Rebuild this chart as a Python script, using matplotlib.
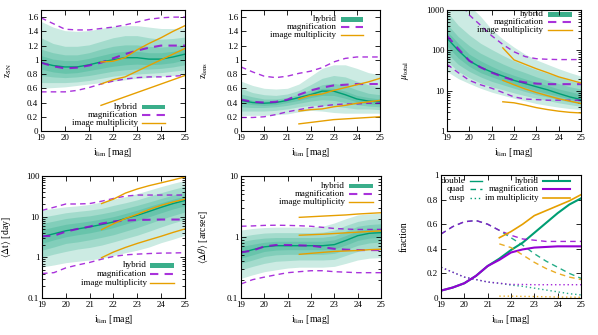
import numpy as np
import matplotlib
matplotlib.use('Agg')
import matplotlib.pyplot as plt
from matplotlib.patches import Rectangle
from matplotlib.ticker import FixedLocator, LogLocator, FuncFormatter, NullFormatter

plt.rcParams['font.family'] = ['Liberation Serif', 'DejaVu Serif']
plt.rcParams['mathtext.fontset'] = 'stix'

GREEN = '#009e73'
PURPLE = '#9400d3'
ORANGE = '#e69f00'

ilim = [19.0, 19.5, 20.0, 20.5, 21.0, 21.5, 22.0, 22.5, 23.0, 23.5, 24.0, 24.5, 25.0]
ilim_im = [21.5, 22.0, 22.5, 23.0, 23.5, 24.0, 24.5, 25.0]

# ---- z_SN ----
zsn_med = [0.96, 0.92, 0.90, 0.90, 0.93, 0.97, 1.00, 1.03, 1.03, 1.01, 1.01, 1.04, 1.08]
zsn_hi1 = [1.54, 1.46, 1.41, 1.40, 1.41, 1.44, 1.47, 1.48, 1.48, 1.46, 1.44, 1.44, 1.45]
zsn_hi2 = [1.31, 1.23, 1.19, 1.19, 1.21, 1.26, 1.31, 1.34, 1.34, 1.31, 1.29, 1.30, 1.32]
zsn_hi3 = [1.15, 1.10, 1.07, 1.07, 1.10, 1.15, 1.19, 1.21, 1.21, 1.19, 1.18, 1.19, 1.22]
zsn_hi4 = [1.06, 1.01, 0.99, 0.99, 1.02, 1.06, 1.10, 1.12, 1.12, 1.10, 1.10, 1.12, 1.15]
zsn_lo4 = [0.87, 0.83, 0.81, 0.82, 0.85, 0.88, 0.91, 0.93, 0.94, 0.93, 0.94, 0.96, 1.00]
zsn_lo3 = [0.78, 0.76, 0.75, 0.76, 0.78, 0.81, 0.84, 0.86, 0.87, 0.87, 0.88, 0.90, 0.93]
zsn_lo2 = [0.68, 0.68, 0.68, 0.69, 0.71, 0.74, 0.77, 0.79, 0.80, 0.81, 0.82, 0.84, 0.86]
zsn_lo1 = [0.60, 0.61, 0.62, 0.64, 0.66, 0.68, 0.70, 0.72, 0.74, 0.75, 0.77, 0.78, 0.80]
zsn_mag_hi = [1.59, 1.51, 1.43, 1.42, 1.42, 1.44, 1.46, 1.49, 1.53, 1.57, 1.59, 1.60, 1.60]
zsn_mag_mid = [0.96, 0.91, 0.88, 0.89, 0.92, 0.96, 1.02, 1.08, 1.13, 1.17, 1.20, 1.20, 1.20]
zsn_mag_lo = [0.55, 0.55, 0.55, 0.57, 0.61, 0.66, 0.70, 0.73, 0.75, 0.76, 0.76, 0.77, 0.78]
zsn_im_hi = [0.97, 0.98, 1.03, 1.14, 1.23, 1.31, 1.40, 1.48]
zsn_im_mid = [0.66, 0.72, 0.76, 0.84, 0.92, 1.00, 1.08, 1.16]
zsn_im_lo = [0.36, 0.42, 0.48, 0.54, 0.60, 0.66, 0.72, 0.78]

# ---- z_lens ----
zl_med = [0.43, 0.40, 0.39, 0.40, 0.43, 0.47, 0.51, 0.56, 0.56, 0.51, 0.45, 0.42, 0.41]
zl_hi1 = [0.70, 0.64, 0.60, 0.59, 0.60, 0.66, 0.77, 0.88, 0.93, 0.93, 0.88, 0.82, 0.79]
zl_hi2 = [0.60, 0.54, 0.51, 0.50, 0.52, 0.57, 0.65, 0.74, 0.78, 0.76, 0.70, 0.65, 0.62]
zl_hi3 = [0.52, 0.48, 0.45, 0.45, 0.47, 0.52, 0.58, 0.65, 0.67, 0.64, 0.58, 0.53, 0.51]
zl_hi4 = [0.47, 0.43, 0.42, 0.42, 0.45, 0.49, 0.54, 0.60, 0.60, 0.56, 0.50, 0.47, 0.45]
zl_lo4 = [0.39, 0.37, 0.36, 0.37, 0.40, 0.43, 0.47, 0.50, 0.50, 0.46, 0.41, 0.38, 0.37]
zl_lo3 = [0.34, 0.33, 0.33, 0.34, 0.36, 0.39, 0.42, 0.44, 0.43, 0.40, 0.37, 0.35, 0.34]
zl_lo2 = [0.28, 0.28, 0.28, 0.29, 0.31, 0.34, 0.36, 0.36, 0.35, 0.33, 0.31, 0.31, 0.30]
zl_lo1 = [0.22, 0.22, 0.22, 0.23, 0.24, 0.27, 0.29, 0.28, 0.26, 0.25, 0.25, 0.25, 0.25]
zl_mag_hi = [0.90, 0.83, 0.77, 0.75, 0.77, 0.81, 0.84, 0.89, 0.97, 1.02, 1.04, 1.04, 1.04]
zl_mag_mid = [0.44, 0.41, 0.40, 0.41, 0.44, 0.51, 0.57, 0.61, 0.64, 0.65, 0.66, 0.66, 0.66]
zl_mag_lo = [0.19, 0.19, 0.20, 0.23, 0.27, 0.30, 0.33, 0.35, 0.37, 0.38, 0.38, 0.39, 0.39]
zl_im_hi = [0.45, 0.50, 0.52, 0.57, 0.61, 0.65, 0.69, 0.74]
zl_im_mid = [0.28, 0.30, 0.31, 0.34, 0.36, 0.39, 0.41, 0.43]
zl_im_lo = [0.10, 0.12, 0.14, 0.16, 0.17, 0.18, 0.19, 0.20]

# ---- mu_total ----
mu_med = [200, 100, 55, 38, 29, 23, 18, 15, 12.5, 10.5, 8.5, 7, 6]
mu_hi1 = [5000, 2500, 1300, 700, 330, 190, 120, 80, 58, 45, 35, 28, 23]
mu_hi2 = [900, 420, 240, 150, 105, 75, 55, 42, 33, 27, 22, 18, 15]
mu_hi3 = [450, 220, 130, 85, 62, 46, 35, 28, 22, 18, 15, 12.5, 11]
mu_hi4 = [300, 150, 80, 55, 40, 30, 24, 19.5, 16, 13.5, 11, 9.5, 8]
mu_lo4 = [130, 65, 40, 28, 22, 17.5, 14.5, 12, 10, 8.5, 7.3, 6.2, 5.4]
mu_lo3 = [85, 45, 30, 22, 17, 14, 11.5, 9.5, 8, 7, 6, 5.3, 4.7]
mu_lo2 = [55, 30, 21, 15.5, 12.5, 10.5, 8.8, 7.5, 6.5, 5.7, 5, 4.5, 4.1]
mu_lo1 = [30, 20, 15, 11.5, 9.2, 7.7, 6.5, 5.6, 4.8, 4.3, 3.9, 3.6, 3.4]
mu_mag_hi = [4000, 1800, 750, 420, 230, 140, 92, 70, 62, 60, 59, 59, 59]
mu_mag_mid = [230, 110, 55, 38, 28, 22, 18, 16, 15, 14.5, 14.5, 14.5, 14.5]
mu_mag_lo = [45, 28, 18, 14, 11.5, 9, 7, 6.2, 6, 5.8, 5.8, 5.8, 5.8]
mu_im_hi = [115, 58, 45, 35, 28, 22, 18.5, 15.5]
mu_im_mid = [18, 14, 11, 9, 7.5, 6.3, 5.5, 4.8]
mu_im_lo = [5.3, 5.0, 4.4, 3.8, 3.4, 3.1, 2.9, 2.8]

# ---- <dt> ----
dt_med = [3.2, 3.8, 4.5, 5.0, 5.6, 6.4, 7.4, 9.0, 10.8, 13.5, 17, 21, 25]
dt_hi1 = [14.4, 16, 17.5, 18.5, 20, 23, 27, 31, 37, 45, 55, 66, 78]
dt_hi2 = [9.8, 11, 12.5, 13.5, 14.5, 16, 19, 22, 26, 32, 39, 47, 56]
dt_hi3 = [6.8, 7.8, 9, 9.8, 10.5, 11.8, 13.5, 16, 19, 23, 28, 34, 40]
dt_hi4 = [4.8, 5.6, 6.5, 7.1, 7.8, 8.8, 10, 12, 14.5, 18, 22, 27, 32]
dt_lo4 = [2.2, 2.7, 3.2, 3.6, 4.0, 4.6, 5.4, 6.6, 8, 10, 12.5, 15.5, 18.5]
dt_lo3 = [1.5, 1.8, 2.2, 2.4, 2.7, 3.1, 3.6, 4.4, 5.4, 6.8, 8.6, 10.7, 13]
dt_lo2 = [1.0, 1.2, 1.4, 1.6, 1.75, 2.0, 2.4, 2.9, 3.5, 4.4, 5.6, 7, 8.5]
dt_lo1 = [0.58, 0.65, 0.74, 0.8, 0.86, 0.95, 1.1, 1.3, 1.5, 1.8, 2.3, 2.8, 3.5]
dt_mag_hi = [14.3, 17, 20.5, 20.5, 21, 24, 28, 32, 34, 34, 34, 34, 34]
dt_mag_mid = [3.3, 3.4, 4.3, 5.0, 5.7, 6.8, 7.6, 8.0, 8.3, 8.4, 8.5, 8.5, 8.5]
dt_mag_lo = [0.40, 0.42, 0.55, 0.65, 0.75, 0.9, 1.05, 1.15, 1.2, 1.24, 1.27, 1.28, 1.3]
dt_im_hi = [21, 27, 38, 48, 58, 68, 80, 95]
dt_im_mid = [4.8, 6.7, 9, 11.5, 15, 19, 23, 27]
dt_im_lo = [0.98, 1.35, 1.75, 2.2, 2.7, 3.3, 4.1, 5.0]

# ---- <dtheta> ----
dth_med = [0.55, 0.62, 0.69, 0.72, 0.72, 0.72, 0.72, 0.72, 0.75, 0.88, 1.05, 1.15, 1.18]
dth_hi1 = [1.3, 1.38, 1.43, 1.45, 1.45, 1.45, 1.45, 1.5, 1.7, 2.0, 2.3, 2.4, 2.45]
dth_hi2 = [1.02, 1.1, 1.16, 1.18, 1.18, 1.18, 1.18, 1.2, 1.3, 1.55, 1.8, 1.95, 2.0]
dth_hi3 = [0.84, 0.91, 0.96, 0.98, 0.98, 0.98, 0.98, 0.99, 1.05, 1.25, 1.5, 1.6, 1.65]
dth_hi4 = [0.70, 0.76, 0.82, 0.85, 0.85, 0.85, 0.85, 0.85, 0.9, 1.06, 1.27, 1.37, 1.4]
dth_lo4 = [0.45, 0.51, 0.58, 0.61, 0.62, 0.62, 0.62, 0.62, 0.64, 0.74, 0.88, 0.96, 0.99]
dth_lo3 = [0.37, 0.42, 0.48, 0.51, 0.52, 0.52, 0.52, 0.52, 0.54, 0.62, 0.73, 0.8, 0.83]
dth_lo2 = [0.29, 0.33, 0.37, 0.40, 0.41, 0.42, 0.42, 0.42, 0.43, 0.5, 0.58, 0.63, 0.65]
dth_lo1 = [0.21, 0.24, 0.27, 0.29, 0.31, 0.32, 0.32, 0.32, 0.33, 0.37, 0.42, 0.45, 0.46]
dth_mag_hi = [1.5, 1.52, 1.55, 1.56, 1.55, 1.53, 1.5, 1.44, 1.38, 1.35, 1.33, 1.33, 1.33]
dth_mag_mid = [0.56, 0.60, 0.70, 0.74, 0.74, 0.73, 0.72, 0.68, 0.64, 0.62, 0.61, 0.61, 0.61]
dth_mag_lo = [0.17, 0.2, 0.22, 0.24, 0.26, 0.27, 0.28, 0.28, 0.27, 0.265, 0.26, 0.26, 0.26]
dth_im_hi = [2.1, 2.15, 2.2, 2.25, 2.3, 2.38, 2.44, 2.5]
dth_im_mid = [1.07, 1.09, 1.11, 1.14, 1.17, 1.2, 1.23, 1.26]
dth_im_lo = [0.52, 0.54, 0.56, 0.58, 0.59, 0.6, 0.62, 0.63]

# ---- fractions ----
fr_hyb_double = [0.06, 0.085, 0.12, 0.18, 0.26, 0.32, 0.39, 0.45, 0.53, 0.61, 0.69, 0.76, 0.81]
fr_hyb_quad = [0.52, 0.58, 0.62, 0.63, 0.60, 0.55, 0.49, 0.43, 0.36, 0.30, 0.25, 0.20, 0.16]
fr_hyb_cusp = [0.25, 0.21, 0.17, 0.15, 0.13, 0.12, 0.105, 0.095, 0.08, 0.065, 0.05, 0.035, 0.025]
fr_mag_double = [0.06, 0.085, 0.12, 0.18, 0.26, 0.31, 0.37, 0.395, 0.41, 0.415, 0.42, 0.42, 0.42]
fr_mag_quad = [0.52, 0.58, 0.62, 0.63, 0.60, 0.55, 0.51, 0.48, 0.47, 0.46, 0.46, 0.46, 0.46]
fr_mag_cusp = [0.25, 0.21, 0.17, 0.15, 0.13, 0.12, 0.11, 0.11, 0.108, 0.108, 0.108, 0.108, 0.108]
fr_im_double = [0.49, 0.54, 0.60, 0.67, 0.71, 0.75, 0.79, 0.84]
fr_im_quad = [0.44, 0.41, 0.35, 0.29, 0.24, 0.20, 0.17, 0.15]
fr_im_cusp = [0.015, 0.015, 0.013, 0.012, 0.01, 0.008, 0.007, 0.006]


def fmt(v, pos):
    return '%g' % v


def style(ax, log=False, ylim=None, yticks=None):
    ax.set_xlim(19, 25)
    ax.set_xticks([19, 20, 21, 22, 23, 24, 25])
    if log:
        ax.set_yscale('log')
        ax.yaxis.set_major_locator(LogLocator(base=10))
        ax.yaxis.set_minor_locator(LogLocator(base=10, subs=np.arange(2, 10)))
        ax.yaxis.set_minor_formatter(NullFormatter())
    else:
        ax.set_yticks(yticks)
    ax.set_ylim(*ylim)
    ax.yaxis.set_major_formatter(FuncFormatter(fmt))
    ax.tick_params(which='both', direction='in', top=True, right=True,
                   labelsize=6.5, pad=2, width=0.6)
    ax.tick_params(which='major', length=3.5)
    ax.tick_params(which='minor', length=2)
    for s in ax.spines.values():
        s.set_linewidth(0.8)
    ax.set_xlabel(r'i$_{\rm lim}$ [mag]', fontsize=7, labelpad=3)


def bands(ax, los, his, med):
    for lo, hi in zip(los, his):
        ax.fill_between(ilim, lo, hi, color=GREEN, alpha=0.2, lw=0)
    ax.plot(ilim, med, color=GREEN, lw=1.0)


def lines(ax, mag, im):
    for k, m in enumerate(mag):
        ax.plot(ilim, m, color=PURPLE, alpha=0.8, lw=1.5 if k == 1 else 1.0,
                dashes=(4, 3))
    for i in im:
        ax.plot(ilim_im, i, color=ORANGE, lw=1.0)


def key(ax, xt, xs, ys, names, kinds):
    for y, name, kind in zip(ys, names, kinds):
        ax.text(xt, y, name, transform=ax.transAxes, ha='right', va='center',
                fontsize=6.5)
        if kind == 'box':
            ax.add_patch(Rectangle((xs[0], y - 0.02), xs[1] - xs[0], 0.04,
                                   transform=ax.transAxes, color='#3aae8a', lw=0))
        elif kind == 'mag':
            ax.plot(xs, [y, y], transform=ax.transAxes, color=PURPLE, alpha=0.8,
                    lw=1.5, dashes=(4, 3))
        else:
            ax.plot(xs, [y, y], transform=ax.transAxes, color=kind[0],
                    lw=kind[1], ls=kind[2])


fig = plt.figure(figsize=(5.98, 3.35), dpi=100)
W, H = 598.0, 335.0


def add_ax(x0, x1, y0, y1):
    return fig.add_axes([x0 / W, 1 - y1 / H, (x1 - x0) / W, (y1 - y0) / H])


names = ['hybrid', 'magnification', 'image multiplicity']
kinds = ['box', 'mag', (ORANGE, 1.0, '-')]

# panel 1
ax = add_ax(41, 185, 10, 131)
bands(ax, [zsn_lo1, zsn_lo2, zsn_lo3, zsn_lo4], [zsn_hi1, zsn_hi2, zsn_hi3, zsn_hi4], zsn_med)
lines(ax, [zsn_mag_hi, zsn_mag_mid, zsn_mag_lo], [zsn_im_hi, zsn_im_mid, zsn_im_lo])
style(ax, ylim=(0, 1.7), yticks=np.arange(0, 1.61, 0.2))
ax.set_ylabel(r'z$_{\rm SN}$', fontsize=7)
ax.yaxis.set_label_coords(-0.19, 0.5)
key(ax, 0.674, [0.70, 0.86], [0.198, 0.132, 0.066], names, kinds)

# panel 2
ax = add_ax(241, 380, 10, 131)
bands(ax, [zl_lo1, zl_lo2, zl_lo3, zl_lo4], [zl_hi1, zl_hi2, zl_hi3, zl_hi4], zl_med)
lines(ax, [zl_mag_hi, zl_mag_mid, zl_mag_lo], [zl_im_hi, zl_im_mid, zl_im_lo])
style(ax, ylim=(0, 1.7), yticks=np.arange(0, 1.61, 0.2))
ax.set_ylabel(r'z$_{\rm lens}$', fontsize=7)
ax.yaxis.set_label_coords(-0.22, 0.5)
key(ax, 0.687, [0.717, 0.88], [0.923, 0.857, 0.791], names, kinds)

# panel 3
ax = add_ax(447, 581, 10, 131)
bands(ax, [mu_lo1, mu_lo2, mu_lo3, mu_lo4], [mu_hi1, mu_hi2, mu_hi3, mu_hi4], mu_med)
lines(ax, [mu_mag_hi, mu_mag_mid, mu_mag_lo], [mu_im_hi, mu_im_mid, mu_im_lo])
style(ax, log=True, ylim=(1, 1000))
ax.set_ylabel(r'$\mu_{\rm total}$', fontsize=7)
ax.yaxis.set_label_coords(-0.27, 0.5)
key(ax, 0.719, [0.751, 0.935], [0.964, 0.898, 0.832], names, kinds)

# panel 4
ax = add_ax(42, 185, 176, 298)
bands(ax, [dt_lo1, dt_lo2, dt_lo3, dt_lo4], [dt_hi1, dt_hi2, dt_hi3, dt_hi4], dt_med)
lines(ax, [dt_mag_hi, dt_mag_mid, dt_mag_lo], [dt_im_hi, dt_im_mid, dt_im_lo])
style(ax, log=True, ylim=(0.1, 100))
ax.set_ylabel(r'$\langle\Delta\mathrm{t}\rangle$ [day]', fontsize=7)
ax.yaxis.set_label_coords(-0.20, 0.5)
key(ax, 0.732, [0.755, 0.923], [0.27, 0.197, 0.123], names, kinds)

# panel 5
ax = add_ax(241, 381, 176, 298)
bands(ax, [dth_lo1, dth_lo2, dth_lo3, dth_lo4], [dth_hi1, dth_hi2, dth_hi3, dth_hi4], dth_med)
lines(ax, [dth_mag_hi, dth_mag_mid, dth_mag_lo], [dth_im_hi, dth_im_mid, dth_im_lo])
style(ax, log=True, ylim=(0.1, 10))
ax.set_ylabel(r'$\langle\Delta\theta\rangle$ [arcsec]', fontsize=7)
ax.yaxis.set_label_coords(-0.22, 0.5)
key(ax, 0.743, [0.771, 0.945], [0.918, 0.852, 0.787], names, kinds)

# panel 6
ax = add_ax(441, 581, 175, 298)
for col, xs, d, q, c, lw in [
        (GREEN, ilim, fr_hyb_double, fr_hyb_quad, fr_hyb_cusp, 1.5),
        (PURPLE, ilim, fr_mag_double, fr_mag_quad, fr_mag_cusp, 1.5),
        (ORANGE, ilim_im, fr_im_double, fr_im_quad, fr_im_cusp, 1.2)]:
    ax.plot(xs, d, color=col, lw=lw)
    ax.plot(xs, q, color=col, lw=1.0, dashes=(4, 3), alpha=0.85)
    ax.plot(xs, c, color=col, lw=1.0, dashes=(1, 2), alpha=0.85)
style(ax, ylim=(0, 1), yticks=np.arange(0, 1.01, 0.2))
ax.set_ylabel('fraction', fontsize=7)
ax.yaxis.set_label_coords(-0.23, 0.5)
key(ax, 0.171, [0.207, 0.29], [0.954, 0.884, 0.81], ['double', 'quad', 'cusp'],
    [(GREEN, 1.0, '-'), (GREEN, 1.0, (0, (4, 3))), (GREEN, 1.0, (0, (1, 2)))])
key(ax, 0.70, [0.73, 0.92], [0.954, 0.884, 0.81],
    ['hybrid', 'magnification', 'im multiplicity'],
    [(GREEN, 1.5, '-'), (PURPLE, 1.5, '-'), (ORANGE, 1.2, '-')])

fig.savefig('out.png', dpi=100)
